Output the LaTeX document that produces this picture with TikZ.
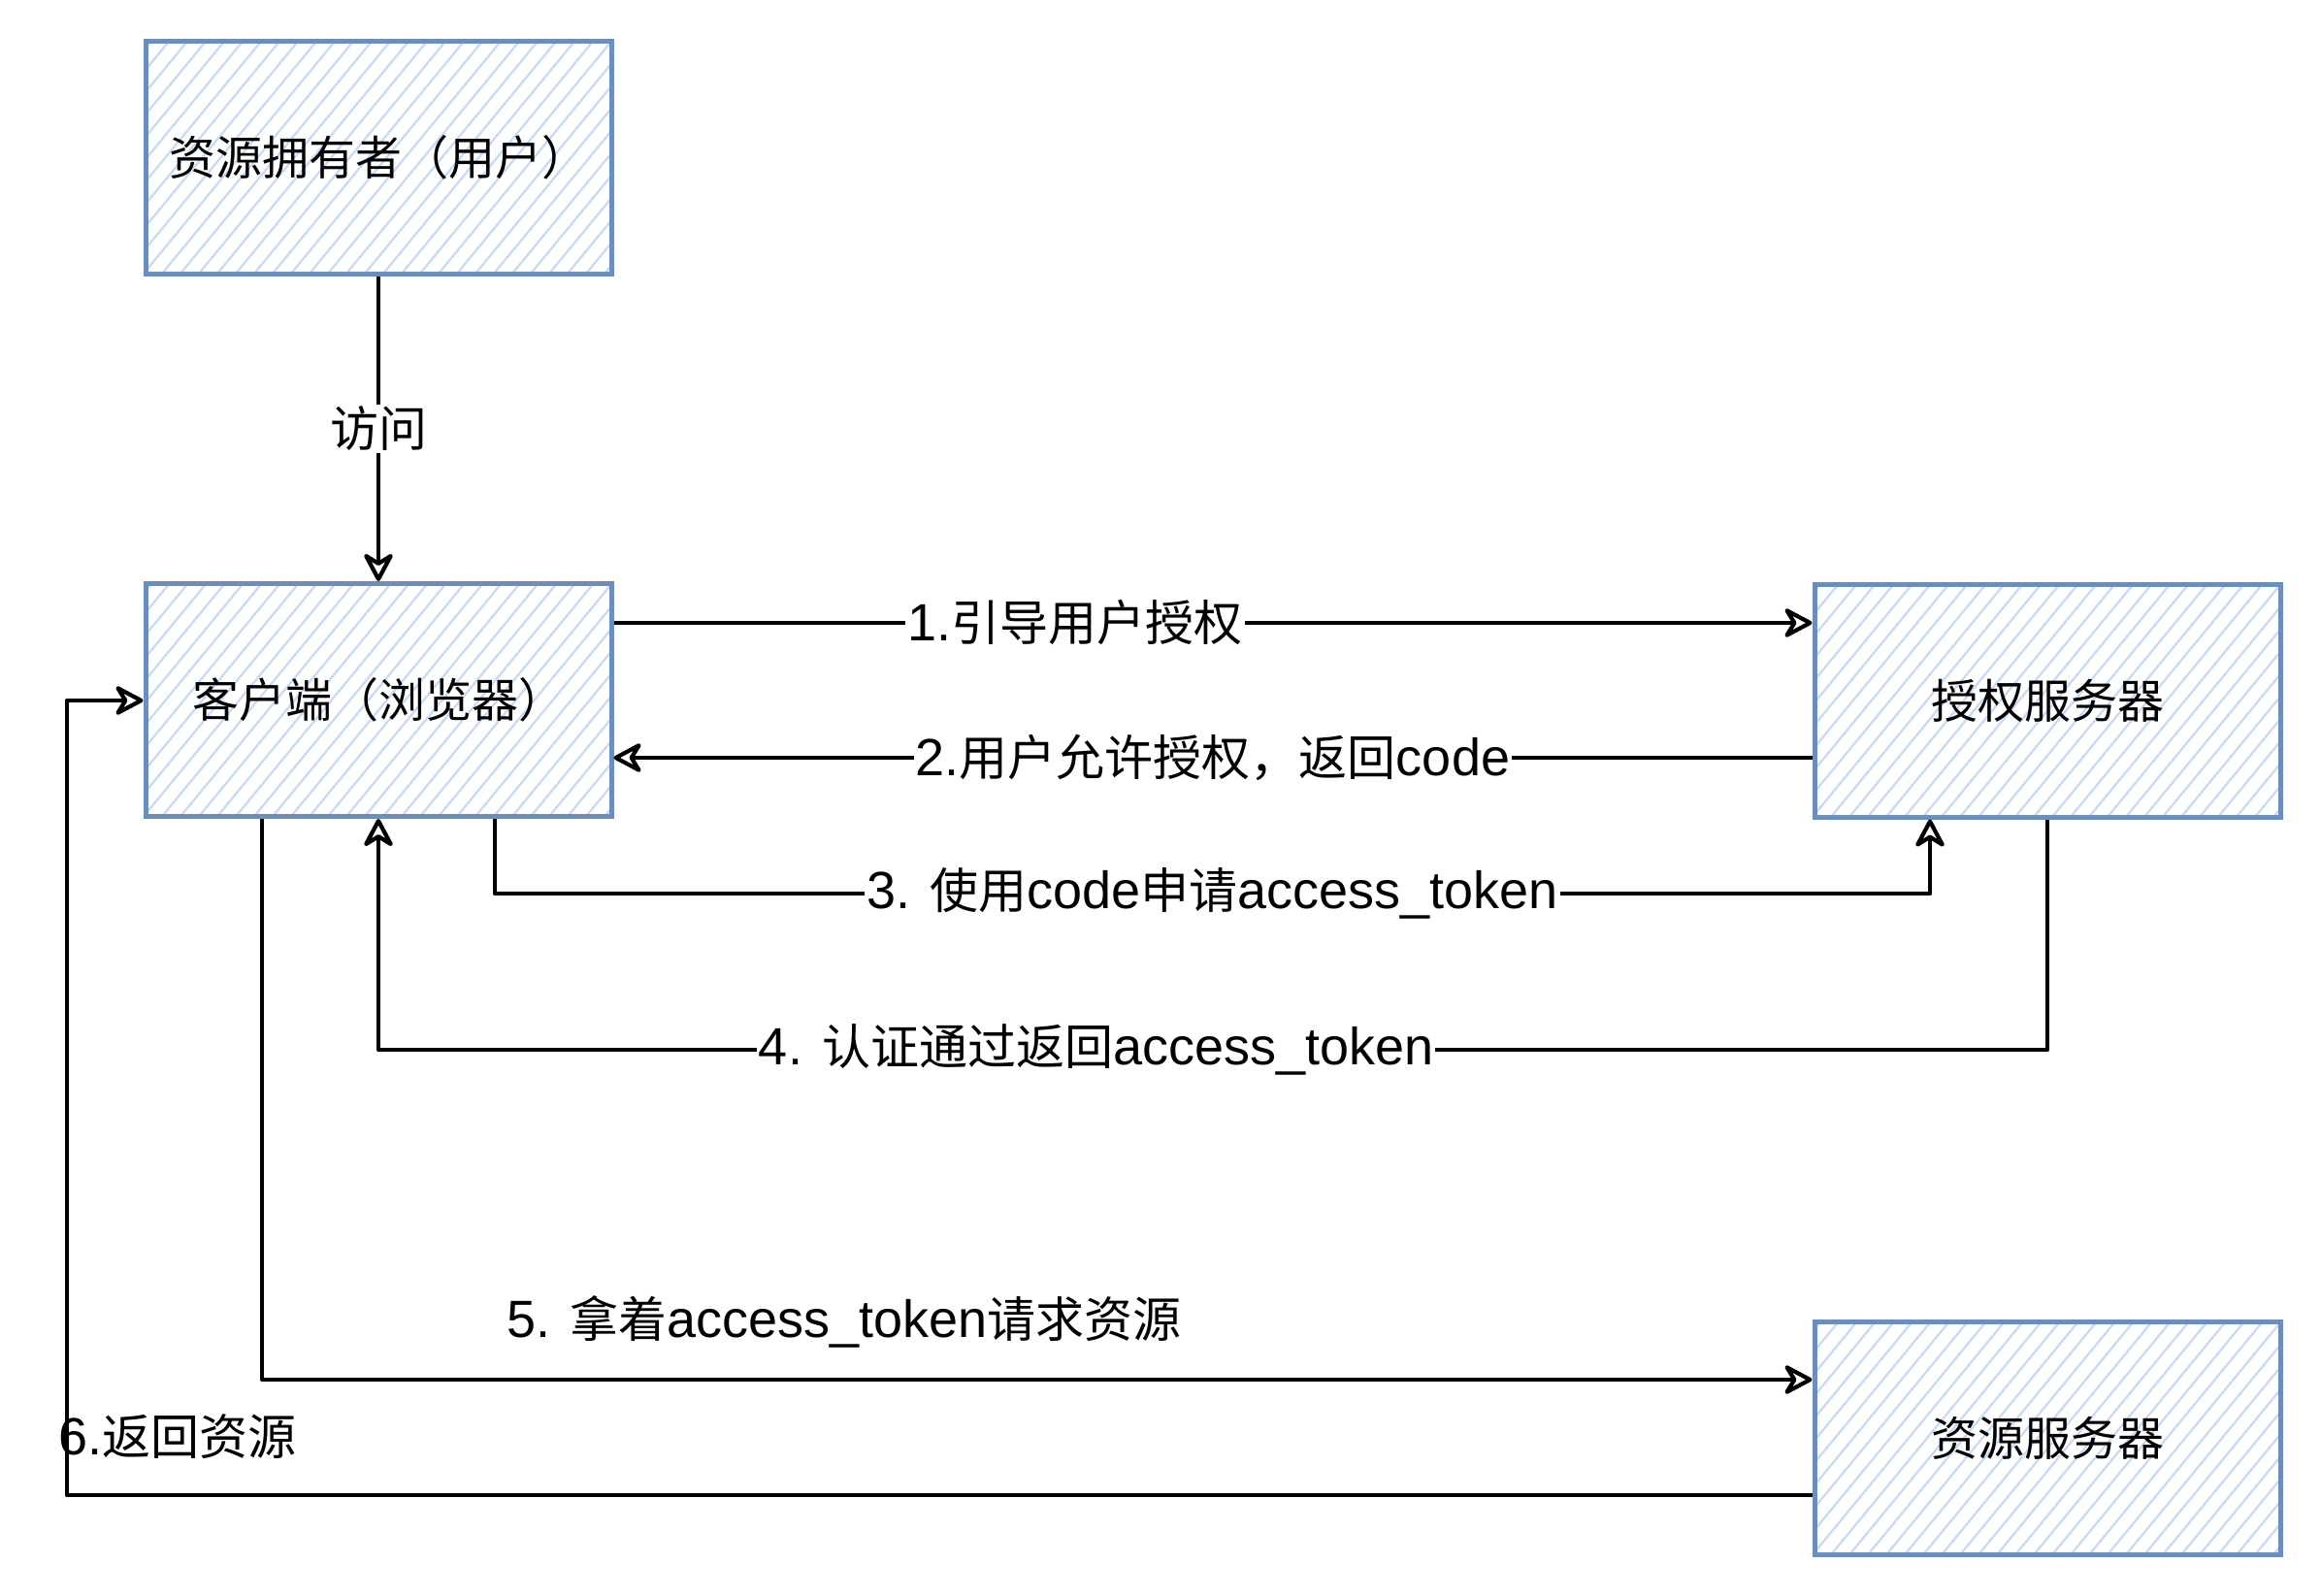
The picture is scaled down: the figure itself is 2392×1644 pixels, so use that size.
\documentclass[tikz,border=0pt]{standalone}
\usepackage{fontspec}
\setmainfont{Liberation Sans}[Scale=1.08]
\newfontfamily\cjk{Noto Sans CJK SC}
\usetikzlibrary{arrows.meta}
\definecolor{boxline}{HTML}{6C8EBF}
\definecolor{hatchc}{HTML}{C6DAF6}
\newcommand\zh[1]{{\cjk #1}}
\begin{document}
\begin{tikzpicture}[x=1pt,y=-1pt,
  box/.style={draw=boxline, line width=5pt, minimum width=480pt, minimum height=240pt,
    inner sep=0pt, font=\fontsize{48}{56}\selectfont\cjk,
    path picture={\foreach \k in {-27,...,14}{\draw[hatchc, line width=2.2pt]
      ([xshift=\k*19pt,yshift=-6pt]path picture bounding box.south) -- ++(210pt,255pt);}}},
  arr/.style={draw, line width=4.2pt, line join=round,
    -{Stealth[open, round, length=34pt, width=36pt, inset=11pt]}},
  lbl/.style={fill=white, inner sep=2pt, font=\fontsize{50}{58}\selectfont},
  tx/.style={inner sep=0pt, font=\fontsize{50}{58}\selectfont}]
\fill[white] (0,0) rectangle (2392,1644);
\useasboundingbox (0,0) rectangle (2392,1644);

\node[box] (owner) at (390,162) {资源拥有者（用户）};
\node[box] (client) at (390,721.5) {客户端（浏览器）};
\node[box] (auth) at (2110,722) {授权服务器};
\node[box] (res) at (2110,1482.5) {资源服务器};

\draw[arr] (owner.south) -- node[lbl] {\zh{访问}} (client.north);

\draw[arr] (client.east |- 0,642) -- node[lbl, pos=0.385] {1.\zh{引导用户授权}} (auth.west |- 0,642);

\draw[arr] (auth.west |- 0,781) -- node[lbl] {2.\zh{用户允许授权，返回}code} (client.east |- 0,781);

\draw[arr] (client.south -| 510,0) -- (510,921)
  -- node[lbl] {3. \zh{使用}code\zh{申请}access\_token} (1989,921) -- (auth.south -| 1989,0);

\draw[arr] (auth.south) -- (2110,1082)
  -- node[lbl, pos=0.57] {4. \zh{认证通过返回}access\_token} (390,1082) -- (client.south);

\draw[arr] (client.south -| 270,0) -- (270,1422) -- (res.west |- 0,1422);
\node[tx] (l5) at (870,1362) {5. \zh{拿着}access\_token\zh{请求资源}};

\node[tx, anchor=west] (l6) at (60,1481) {6.\zh{返回资源}};
\draw[arr] (res.west |- 0,1541) -- (69,1541) -- (69,722) -- (client.west |- 0,722);
\end{tikzpicture}
\end{document}
